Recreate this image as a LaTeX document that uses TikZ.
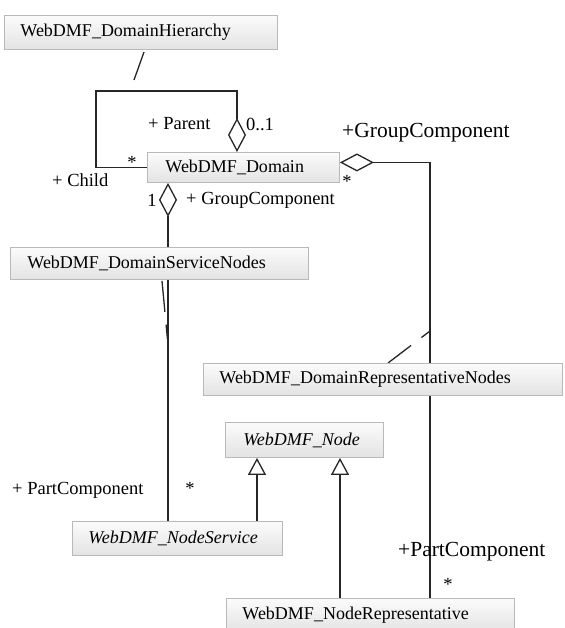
\documentclass[tikz,border=0pt]{standalone}
\usepackage{fontspec}
\setmainfont{Liberation Serif}
\usetikzlibrary{arrows.meta,calc}
\pgfdeclarelayer{background}
\pgfsetlayers{background,main}
\begin{document}
\begin{tikzpicture}[x=1pt,y=-1pt,
  cls/.style={draw=gray!55, line width=0.9pt, top color=gray!3, bottom color=gray!22,
    anchor=north west, align=left, inner xsep=16pt, inner ysep=0pt,
    font=\fontsize{18}{20}\selectfont},
  lbl/.style={inner sep=0pt, font=\fontsize{18.5}{20}\selectfont},
  biglbl/.style={inner sep=0pt, font=\fontsize{21.5}{23}\selectfont},
  link/.style={line width=1.3pt, draw=black!85},
  aggr/.style={link, {Diamond[open, length=34pt, width=18pt, line width=1.3pt]}-},
  gen/.style={link, -{Triangle[open, length=17pt, width=18pt, line width=1.3pt]}},
  assoccls/.style={line width=1.3pt, draw=black!85}
]
\useasboundingbox (0,0) rectangle (564,628);
\clip (0,0) rectangle (564,628);

% classes
\node[cls, text width=241pt, minimum height=34pt] (hier) at (4,15) {WebDMF\_DomainHierarchy};
\node[cls, text width=156pt, minimum height=30pt, inner xsep=18pt] (dom) at (147,152) {WebDMF\_Domain};
\node[cls, text width=264pt, minimum height=32pt, inner xsep=17pt] (svcn) at (10,247) {WebDMF\_DomainServiceNodes};
\node[cls, text width=327pt, minimum height=32pt] (repn) at (203,363) {WebDMF\_DomainRepresentativeNodes};
\node[cls, text width=122pt, minimum height=35pt, inner xsep=18pt] (nd) at (225,422) {\itshape WebDMF\_Node};
\node[cls, text width=178pt, minimum height=34pt] (nsvc) at (72,521) {\itshape WebDMF\_NodeService};
\node[cls, text width=256pt, minimum height=34pt] (nrep) at (226,598) {WebDMF\_NodeRepresentative};

% connector end points
\coordinate (loopL) at (96,91);
\coordinate (loopR) at (237,91);
\coordinate (parentEnd) at ($(dom.north west)+(90,0)$);
\coordinate (hierA) at (144,52);
\coordinate (hierB) at (134,80);
\coordinate (gcR) at ($(dom.east)+(0,-5)$);
\coordinate (pcR) at ($(nrep.north west)+(204,0)$);
\coordinate (gcL) at ($(dom.south west)+(21,0)$);
\coordinate (pcL) at ($(nsvc.north west)+(96,0)$);
\coordinate (svA) at ($(svcn.south west)+(152,1)$);
\coordinate (svB) at (168,345);
\coordinate (rpA) at ($(repn.north west)+(185,0)$);
\coordinate (rpB) at (430,331);
\coordinate (nsTop) at ($(nsvc.north west)+(185,0)$);
\coordinate (ndL) at ($(nd.south west)+(32,0)$);
\coordinate (nrTop) at ($(nrep.north west)+(114,0)$);
\coordinate (ndR) at ($(nd.south west)+(115,0)$);

\begin{pgfonlayer}{background}
  \fill[white] (0,0) rectangle (564,628);
  % domain hierarchy (self association)
  \draw[link, -{Diamond[open, length=34pt, width=18pt, line width=1.3pt]}]
    (dom.west) -| (loopL) -- (loopR) -- (parentEnd);
  \draw[assoccls] (hierA) -- (hierB);
  % group / part components
  \draw[aggr] (gcR) -| (pcR);
  \draw[aggr] (gcL) -- (pcL);
  % association classes
  \draw[assoccls, dash pattern=on 31pt off 13pt on 14pt off 40pt] (svA) -- (svB);
  \draw[assoccls, dash pattern=on 29pt off 13pt on 10pt off 40pt] (rpA) -- (rpB);
  % generalisations
  \draw[gen] (nsTop) -- (ndL);
  \draw[gen] (nrTop) -- (ndR);
\end{pgfonlayer}

% role names and multiplicities
\node[lbl, anchor=west] (lParent) at (148,124) {+ Parent};
\node[lbl, anchor=west] (lZeroOne) at (246,124) {0..1};
\node[lbl] (lStarChild) at (132,162) {*};
\node[lbl, anchor=west] (lChild) at (52,180) {+ Child};
\node[biglbl, anchor=west] (lGcR) at (342,133) {+GroupComponent};
\node[lbl] (lStarGcR) at (347,181) {*};
\node[lbl] (lOne) at (152,200) {1};
\node[lbl, anchor=west] (lGcL) at (186,200) {+ GroupComponent};
\node[lbl, anchor=west] (lPcL) at (12,490) {+ PartComponent};
\node[lbl] (lStarPcL) at (190,488) {*};
\node[biglbl, anchor=west] (lPcR) at (398,552) {+PartComponent};
\node[lbl] (lStarPcR) at (448,584) {*};
\end{tikzpicture}
\end{document}
